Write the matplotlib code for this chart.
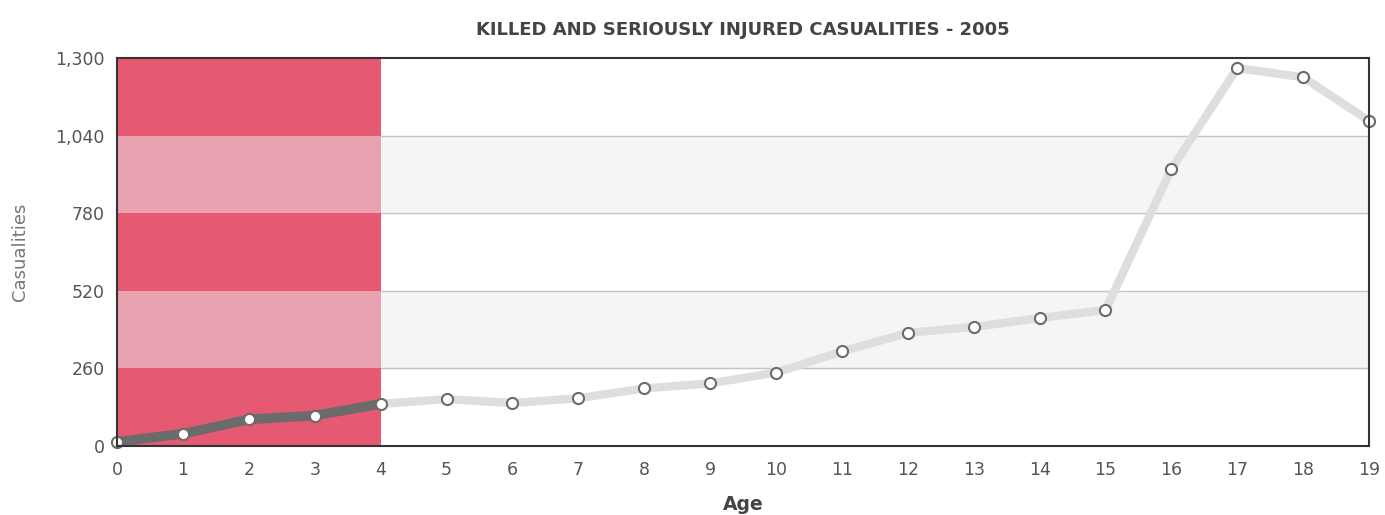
import matplotlib
matplotlib.use("Agg")
import matplotlib.pyplot as plt
import numpy as np

ages = list(range(20))
casualties = [14, 41, 89, 102, 141, 157, 144, 160, 193, 210, 246, 317, 379, 399, 429, 456,
              928, 1267, 1236, 1090]
yticks = [0, 260, 520, 780, 1040, 1300]
ytick_labels = ["0", "260", "520", "780", "1,040", "1,300"]
highlight_end = 4

fig = plt.figure(figsize=(13.85, 5.15), dpi=100)
ax = fig.add_axes([0.0845, 0.134, 0.9040, 0.753])

# alternating grid bands
for i in range(len(yticks) - 1):
    if i % 2 == 1:
        ax.axhspan(yticks[i], yticks[i + 1], color="#f5f5f5", zorder=0)
for y in yticks[1:-1]:
    ax.axhline(y, color="#c4c4c4", lw=1, zorder=1)

# red highlighted band (age 0-4)
for i in range(len(yticks) - 1):
    c = "#e55a72" if i % 2 == 0 else "#e8a2b0"
    ax.fill_between([0, highlight_end], yticks[i], yticks[i + 1], color=c, lw=0, zorder=2)

x = np.array(ages)
y = np.array(casualties)
ax.plot(x[highlight_end:], y[highlight_end:], color="#dedede", lw=6,
        solid_capstyle="round", zorder=3)
ax.plot(x[:highlight_end + 1], y[:highlight_end + 1], color="#6b6b6b", lw=7,
        solid_capstyle="round", zorder=4)
ax.plot(x, y, ls="none", marker="o", ms=8, mfc="white", mec="#6b6b6b", mew=1.5,
        zorder=5, clip_on=False)

ax.set_xlim(0, 19)
ax.set_ylim(0, 1300)
ax.set_xticks(ages)
ax.set_xticklabels([str(a) for a in ages], color="#555555", fontsize=12.5)
ax.set_yticks(yticks)
ax.set_yticklabels(ytick_labels, color="#555555", fontsize=12.5)
ax.tick_params(axis="x", length=0, pad=11)
ax.tick_params(axis="y", length=0, pad=9)
for s in ax.spines.values():
    s.set_color("#333333")
    s.set_linewidth(1.5)
    s.set_zorder(6)

ax.set_title("KILLED AND SERIOUSLY INJURED CASUALITIES - 2005", fontsize=13,
             fontweight="bold", color="#444444", pad=17)
ax.set_xlabel("Age", fontsize=13.5, fontweight="bold", color="#444444", labelpad=11)
ax.set_ylabel("Casualities", fontsize=13, color="#777777", labelpad=19)

fig.savefig("out.png", dpi=100)
